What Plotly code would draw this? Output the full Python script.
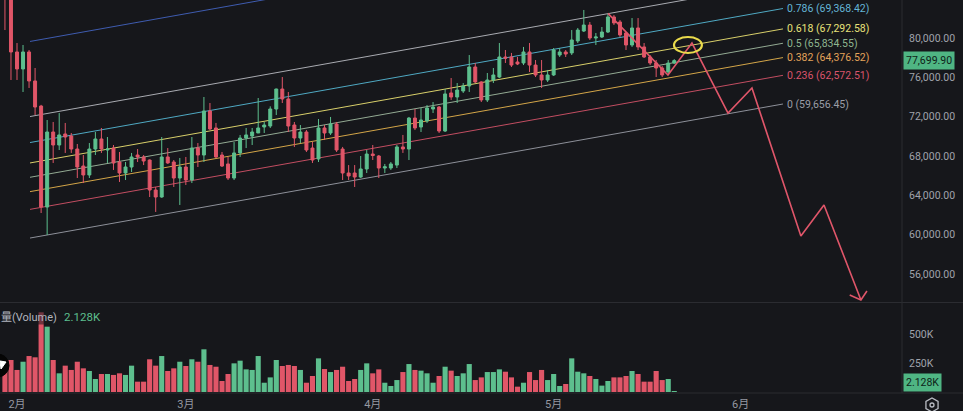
import math
import pandas as pd
import plotly.graph_objects as go

# ---------------- data ----------------
dates = pd.date_range("2026-01-30", periods=112, freq="D")

opens = [86500, 84100, 78580, 76850, 78580, 75630, 73080, 62810, 70440, 69120,
         70240, 70030, 68710, 66980, 66070, 68710, 69730, 68610, 68810, 67390,
         66270, 66880, 68100, 67900, 67590, 64540, 63830, 67900, 67390, 65760,
         66880, 65560, 68810, 68100, 72580, 70850, 68100, 67190, 65760, 68310,
         69830, 70030, 70340, 70950, 71050, 72780, 74810, 73800, 71150, 69830,
         70440, 68810, 67700, 70850, 70340, 71250, 68710, 66270, 66270, 65860,
         66680, 68200, 68000, 66780, 66780, 67080, 68920, 68710, 71860, 70950,
         71560, 72780, 72980, 70540, 74410, 74000, 74610, 75120, 77050, 75530,
         73700, 75730, 76030, 78070, 78070, 77560, 77460, 78580, 77250, 76240,
         75730, 76240, 78270, 78580, 78480, 79700, 80710, 81320, 80000, 80100,
         80610, 82140, 81630, 80510, 79290, 81020, 79090, 78070, 77460, 76950,
         76540, 77450]
highs = [87200, 84300, 79490, 79290, 78780, 76950, 73200, 71660, 71460, 72370,
         71360, 70340, 69220, 68100, 69320, 70440, 70850, 69930, 69120, 68410,
         67390, 68310, 68710, 68100, 67650, 64850, 69930, 68810, 67590, 67800,
         67900, 69930, 69320, 74000, 73390, 71360, 68410, 67900, 69420, 70140,
         70850, 70850, 73900, 71460, 73050, 74850, 76030, 74510, 71460, 71150,
         70640, 69420, 71760, 71150, 71970, 71460, 68920, 67080, 67080, 68000,
         68610, 69120, 68100, 67190, 67390, 69120, 70140, 71970, 72780, 72880,
         73190, 73490, 73080, 74810, 75930, 75420, 75420, 78270, 77460, 75600,
         76440, 76950, 79490, 78780, 78480, 78070, 79090, 79490, 77760, 77760,
         76750, 78980, 78980, 78780, 80810, 81020, 82850, 81630, 80510, 81120,
         82540, 82340, 81830, 80610, 82030, 82030, 79490, 78270, 77760, 77150,
         77760, 77850]
lows = [80810, 75730, 75730, 74510, 74920, 72170, 62200, 59970, 67290, 68610,
        68310, 68310, 65760, 65250, 65760, 68100, 68310, 67290, 66580, 65360,
        65560, 66370, 67390, 67080, 63830, 62310, 63750, 67200, 64850, 63020,
        65050, 65250, 66880, 67390, 70640, 67800, 66880, 65560, 65560, 67900,
        68810, 69120, 70340, 70340, 70850, 72170, 73390, 70440, 68920, 69320,
        68410, 67290, 67390, 69630, 70140, 68410, 65560, 65560, 64850, 65760,
        66270, 67590, 65760, 66270, 66580, 66780, 68310, 67590, 70640, 70440,
        71360, 72370, 70340, 70440, 73700, 73390, 74410, 74510, 75420, 73490,
        73490, 75420, 75930, 77460, 77050, 77250, 77250, 76540, 76030, 74920,
        75530, 76140, 78070, 78070, 78270, 79490, 80610, 79800, 79290, 80000,
        80510, 81320, 80100, 78780, 79090, 78780, 77970, 77250, 76030, 76030,
        76340, 77350]
closes = [84150, 78580, 76850, 78580, 75630, 72980, 62810, 70440, 69120, 70140,
          69930, 68710, 66880, 66070, 68710, 69730, 68710, 68710, 67290, 66270,
          66880, 67900, 67900, 67490, 64540, 63830, 67900, 67290, 65760, 66880,
          65560, 68810, 68100, 72580, 70750, 67900, 66980, 65760, 68310, 69830,
          70140, 70440, 70850, 71150, 72780, 74810, 73800, 71050, 69830, 70440,
          68610, 67590, 70850, 70340, 71250, 68610, 66270, 65970, 65860, 66680,
          68200, 68050, 66780, 66900, 67190, 68920, 68710, 71860, 70850, 71660,
          72880, 72980, 70540, 74310, 74000, 74710, 75120, 77050, 75530, 73700,
          75730, 76240, 78070, 77950, 77250, 77360, 78580, 77250, 76240, 75730,
          76240, 78780, 78580, 78370, 79800, 80810, 81320, 80000, 80100, 80610,
          82140, 81530, 80310, 79290, 81020, 79090, 78070, 77460, 76950, 76240,
          77450, 77699.90]
volumes_k = [200, 276, 190, 261, 310, 299, 687, 563, 276, 161,
             227, 190, 261, 204, 181, 112, 155, 155, 147, 161,
             147, 227, 89, 89, 282, 227, 310, 181, 204, 261,
             224, 282, 261, 368, 233, 218, 95, 155, 247, 270,
             195, 190, 310, 80, 126, 276, 224, 233, 224, 190,
             80, 138, 290, 198, 172, 190, 218, 95, 112, 190,
             247, 161, 195, 80, 52, 103, 172, 241, 190, 184,
             161, 80, 138, 218, 184, 138, 161, 241, 103, 126,
             172, 172, 195, 175, 126, 46, 80, 172, 103, 190,
             103, 155, 52, 69, 290, 175, 161, 138, 112, 55,
             95, 126, 126, 138, 181, 155, 89, 89, 181, 103,
             112, 2.128]

# Fibonacci channel
fib_levels = [0, 0.236, 0.382, 0.5, 0.618, 0.786, 1, 1.618]
fib_level_text = ["0", "0.236", "0.382", "0.5", "0.618", "0.786"]
fib_label_prices = [59656.45, 62572.51, 64376.52, 65834.55, 67292.58, 69368.42]
fib_line_colors = ["#8d9099", "#c24d61", "#d3a548", "#93aa93", "#d8cf6a", "#4fa9c3", "#a9abb1", "#3f5cb0"]
fib_label_colors = ["#9a9da6", "#d9546b", "#e3a35a", "#8fb58f", "#e8e27a", "#64b5d6"]
fib_start = "2026-02-03 03:45"
fib_end = "2026-06-08 00:45"
fib_base = 59656.45
fib_height = 12356.19
fib_rise = 13632

# drawn forecast path
arrow_dates = ["2026-05-10 00:00", "2026-05-19 23:00", "2026-05-23 22:30", "2026-05-29 22:00",
               "2026-06-02 21:20", "2026-06-11 00:00", "2026-06-14 20:00", "2026-06-20 23:00"]
arrow_prices = [82500, 76240, 79490, 72370, 74920, 59860, 63020, 53360]
arrowhead_dates = ["2026-06-19 02:20", "2026-06-20 23:00", "2026-06-21 23:00"]
arrowhead_prices = [53860, 53360, 54270]
ellipse_dates = ["2026-05-20 23:00", "2026-05-25 14:00"]
ellipse_prices = [78475, 80102]

price_ticks = [56000, 60000, 64000, 68000, 72000, 76000, 80000]
top_tick = 84000
month_ticks = ["2026-02-01", "2026-03-01", "2026-04-01", "2026-05-01", "2026-06-01"]
month_labels = ["2月", "3月", "4月", "5月", "6月"]
vol_ticks = [250, 500]
vol_tick_labels = ["250K", "500K"]
last_price = 77699.90
last_volume_label = "2.128K"

# ---------------- style ----------------
W, H = 963, 411
PW, PH = 902, 393
BG = "#16171b"
UP = "#5dbf8e"
DOWN = "#e05668"
GRID = "#2b2c31"
TXT = "#a0a3ab"
FONT = "Roboto, Liberation Sans, Noto Sans CJK SC, sans-serif"


def px_x(p):
    return p / PW


def px_y(p):
    return (PH - p) / PH


fig = go.Figure()

fig.add_trace(go.Candlestick(
    x=dates, open=opens, high=highs, low=lows, close=closes,
    increasing=dict(line=dict(color=UP, width=1), fillcolor=UP),
    decreasing=dict(line=dict(color=DOWN, width=1), fillcolor=DOWN),
    whiskerwidth=0, xaxis="x", yaxis="y", hoverinfo="skip",
))

vol_colors = [UP if c >= o else DOWN for o, c in zip(opens, closes)]
fig.add_trace(go.Bar(
    x=dates, y=volumes_k, marker=dict(color=vol_colors, line=dict(width=0)),
    xaxis="x", yaxis="y2", hoverinfo="skip",
))

fig.add_trace(go.Scatter(
    x=arrow_dates, y=arrow_prices, mode="lines",
    line=dict(color="#e0566a", width=1.6), xaxis="x", yaxis="y", hoverinfo="skip",
))
fig.add_trace(go.Scatter(
    x=arrowhead_dates, y=arrowhead_prices, mode="lines",
    line=dict(color="#e0566a", width=1.6), xaxis="x", yaxis="y", hoverinfo="skip",
))

shapes = []
annotations = []
for i, lvl in enumerate(fib_levels):
    p0 = fib_base + lvl * fib_height
    shapes.append(dict(type="line", xref="x", yref="y", x0=fib_start, x1=fib_end,
                       y0=p0, y1=p0 + fib_rise, line=dict(color=fib_line_colors[i], width=1),
                       layer="below"))
for i, txt in enumerate(fib_level_text):
    annotations.append(dict(xref="x", yref="y", x=fib_end, y=fib_label_prices[i] + fib_rise,
                            text=f"{txt} ({fib_label_prices[i]:,.2f})", showarrow=False,
                            xanchor="left", yanchor="middle", xshift=2,
                            font=dict(family=FONT, size=10.5, color=fib_label_colors[i])))

shapes.append(dict(type="circle", xref="x", yref="y", x0=ellipse_dates[0], x1=ellipse_dates[1],
                   y0=ellipse_prices[0], y1=ellipse_prices[1],
                   line=dict(color="#eadb4c", width=2.2)))

# pane separators
shapes.append(dict(type="line", xref="paper", yref="paper", x0=0, x1=W / PW,
                   y0=px_y(302.5), y1=px_y(302.5), line=dict(color=GRID, width=1)))
shapes.append(dict(type="line", xref="paper", yref="paper", x0=0, x1=W / PW,
                   y0=0, y1=0, line=dict(color=GRID, width=1)))
shapes.append(dict(type="line", xref="paper", yref="paper", x0=1, x1=1,
                   y0=0, y1=1, line=dict(color=GRID, width=1)))

# left round button
shapes.append(dict(type="circle", xref="paper", yref="paper",
                   x0=px_x(-14), x1=px_x(9), y0=px_y(377), y1=px_y(354),
                   fillcolor="#050505", line=dict(color="#050505", width=1)))
shapes.append(dict(type="path", xref="paper", yref="paper",
                   path=f"M {px_x(0)},{px_y(361)} L {px_x(6)},{px_y(362)} L {px_x(1)},{px_y(369)} Z",
                   fillcolor="#ffffff", line=dict(color="#ffffff", width=1)))
# gear icon
hexpts = []
for k in range(6):
    a = math.pi / 6 + k * math.pi / 3
    hexpts.append((px_x(932 + 7 * math.cos(a)), px_y(405 + 7 * math.sin(a))))
hpath = "M " + " L ".join(f"{a},{b}" for a, b in hexpts) + " Z"
shapes.append(dict(type="path", xref="paper", yref="paper", path=hpath,
                   line=dict(color="#b8bbc2", width=1.3)))
shapes.append(dict(type="circle", xref="paper", yref="paper",
                   x0=px_x(930), x1=px_x(934), y0=px_y(407), y1=px_y(403),
                   line=dict(color="#b8bbc2", width=1.3)))

# partially visible top tick
annotations.append(dict(xref="paper", yref="y", x=1, y=top_tick, text=f"{top_tick:,.2f}",
                        showarrow=False, xanchor="left", yanchor="middle", xshift=4,
                        font=dict(family=FONT, size=10.5, color=TXT)))
# last price box
annotations.append(dict(xref="paper", yref="y", x=1, y=last_price, text=f"{last_price:,.2f}",
                        showarrow=False, xanchor="left", yanchor="middle", xshift=1,
                        bgcolor="#4fb583", borderpad=2,
                        font=dict(family=FONT, size=10.5, color="#0e2318")))
# volume legend
annotations.append(dict(xref="paper", yref="paper", x=px_x(0), y=px_y(317), text="量(Volume)",
                        showarrow=False, xanchor="left", yanchor="middle",
                        bgcolor="rgba(22,23,27,0.55)", borderpad=0,
                        font=dict(family=FONT, size=11, color="#b2b5be")))
annotations.append(dict(xref="paper", yref="paper", x=px_x(62), y=px_y(317), text=last_volume_label,
                        showarrow=False, xanchor="left", yanchor="middle",
                        font=dict(family=FONT, size=11.5, color=UP)))
annotations.append(dict(xref="paper", yref="y2", x=1, y=volumes_k[-1], text=last_volume_label,
                        showarrow=False, xanchor="left", yanchor="bottom", xshift=1,
                        bgcolor="#4fb583", borderpad=2,
                        font=dict(family=FONT, size=10.5, color="#0e2318")))

fig.update_layout(
    width=W, height=H,
    margin=dict(l=0, r=W - PW, t=0, b=H - PH),
    paper_bgcolor=BG, plot_bgcolor=BG,
    showlegend=False, hovermode=False, bargap=0.15,
    font=dict(family=FONT, size=11, color=TXT),
    xaxis=dict(type="date", range=["2026-01-29 04:20", "2026-06-27 18:30"],
               anchor="y2", tickvals=month_ticks, ticktext=month_labels,
               showgrid=False, zeroline=False, showline=False, ticks="",
               rangeslider=dict(visible=False), ticklabelstandoff=3,
               tickfont=dict(family=FONT, size=11, color="#9598a1")),
    yaxis=dict(domain=[px_y(302), 1], range=[53152, 83865], side="right", anchor="x",
               tickvals=price_ticks, ticktext=[f"{v:,.2f}" for v in price_ticks],
               showgrid=False, zeroline=False, showline=False, ticks="",
               ticklabelstandoff=6, tickfont=dict(family=FONT, size=10.5, color=TXT)),
    yaxis2=dict(domain=[0, px_y(303)], range=[-8.6, 767], side="right", anchor="x",
                tickvals=vol_ticks, ticktext=vol_tick_labels,
                showgrid=False, zeroline=False, showline=False, ticks="",
                ticklabelstandoff=6, tickfont=dict(family=FONT, size=10.5, color=TXT)),
    shapes=shapes, annotations=annotations,
)

fig.write_html("out.html", config={"displayModeBar": False},
               post_script="document.body.style.margin='0';document.body.style.background='#16171b';")
